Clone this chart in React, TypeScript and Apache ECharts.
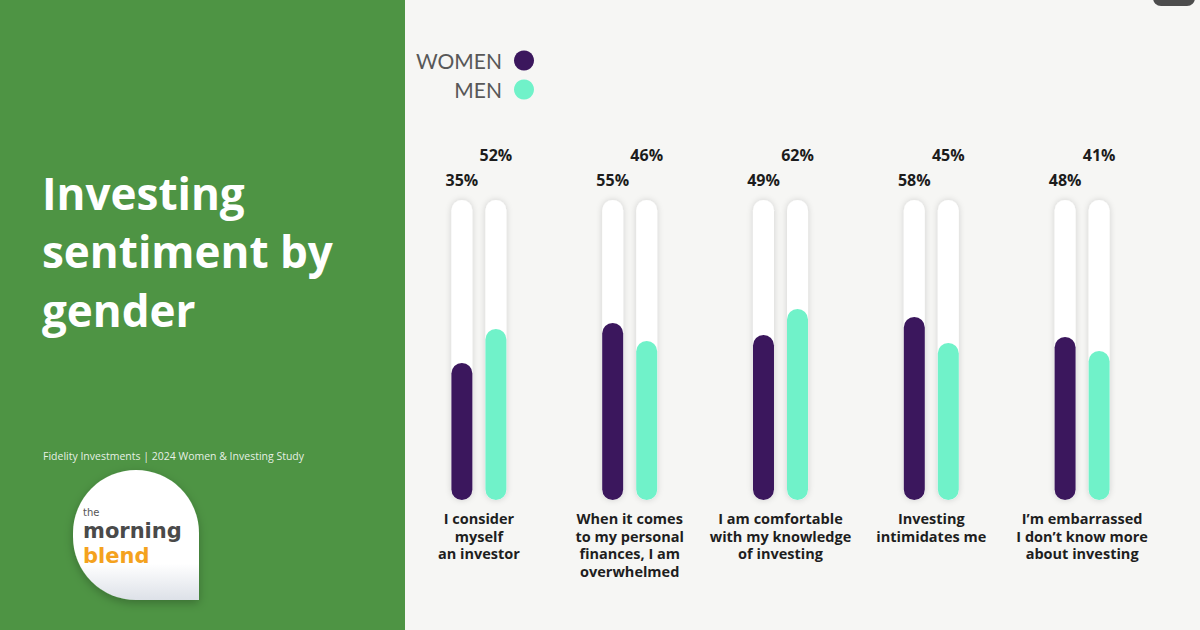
import React, { useEffect, useRef } from "react";
import * as echarts from "echarts";

const categories = [
  "I consider\nmyself\nan investor",
  "When it comes\nto my personal\nfinances, I am\noverwhelmed",
  "I am comfortable\nwith my knowledge\nof investing",
  "Investing\nintimidates me",
  "I\u2019m embarrassed\nI don\u2019t know more\nabout investing",
];
const women = [35, 55, 49, 58, 48];
const men = [52, 46, 62, 45, 41];
const seriesNames = ["WOMEN", "MEN"];

const PURPLE = "#3b175d";
const MINT = "#70f2c9";
const GREEN = "#4e9444";
const GRID_TOP = 200;
const GRID_BOTTOM = 500;
const BASE = 33.5; // visual pad under each bar (bars start below the 0% mark in the reference)
const AXIS_MAX = 150;

let registered = false;
function registerLogo() {
  if (registered) return;
  registered = true;
  const d = "M0,63 A63,63 0 0 1 126,63 L126,130 L63,130 A63,63 0 0 1 0,67 Z";
  echarts.graphic.registerShape("logo", (echarts.graphic as any).extendPath(d, {}));
}

export default function App() {
  const ref = useRef<HTMLDivElement>(null);
  useEffect(() => {
    document.body.style.margin = "0";
    registerLogo();
    const chart = echarts.init(ref.current!, undefined, { renderer: "svg" });
    const radius = 10.5;
    const trackStyle = {
      color: "#ffffff",
      borderRadius: radius,
      shadowBlur: 6,
      shadowColor: "rgba(0,0,0,0.16)",
    };
    const labelFont = {
      fontFamily: "Open Sans",
      fontWeight: 700 as const,
      fontSize: 16,
      color: "#1c1c1c",
    };
    const legendText = { fontFamily: "Lato", fontSize: 21, color: "#585858", padding: [0, 7, 0, 0] };
    const option: any = {
      animation: false,
      backgroundColor: "#f6f6f4",
      legend: [
        {
          data: [seriesNames[0]],
          right: 661,
          top: 45,
          align: "right",
          icon: "circle",
          itemWidth: 20,
          itemHeight: 20,
          selectedMode: false,
          textStyle: legendText,
        },
        {
          data: [seriesNames[1]],
          right: 661,
          top: 74,
          align: "right",
          icon: "circle",
          itemWidth: 20,
          itemHeight: 20,
          selectedMode: false,
          textStyle: legendText,
        },
      ],
      grid: { left: 403.5, right: 42.5, top: GRID_TOP, bottom: 630 - GRID_BOTTOM },
      xAxis: {
        type: "category",
        data: categories,
        axisLine: { show: false },
        axisTick: { show: false },
        axisLabel: {
          interval: 0,
          margin: 10,
          fontFamily: "Open Sans",
          fontWeight: 700,
          fontSize: 14.5,
          lineHeight: 17.5,
          color: "#1e1e1e",
          align: "center",
          verticalAlign: "top",
        },
      },
      yAxis: { type: "value", min: 0, max: AXIS_MAX, show: false, splitLine: { show: false } },
      series: [
        {
          name: seriesNames[0],
          type: "bar",
          stack: "w",
          barWidth: 21,
          barGap: "62%",
          data: categories.map(() => BASE),
          itemStyle: { color: PURPLE, borderRadius: [0, 0, radius, radius] },
          showBackground: true,
          backgroundStyle: trackStyle,
          silent: true,
        },
        {
          name: seriesNames[0],
          type: "bar",
          stack: "w",
          barWidth: 21,
          barGap: "62%",
          data: women,
          itemStyle: { color: PURPLE, borderRadius: [radius, radius, 0, 0] },
          label: {
            show: true,
            position: "top",
            ...labelFont,
            formatter: (p: any) => women[p.dataIndex] + "%",
          },
          labelLayout: () => ({ y: GRID_TOP - 20, verticalAlign: "middle", align: "center" }),
        },
        {
          name: seriesNames[1],
          type: "bar",
          stack: "m",
          barWidth: 21,
          barGap: "62%",
          data: categories.map(() => BASE),
          itemStyle: { color: MINT, borderRadius: [0, 0, radius, radius] },
          showBackground: true,
          backgroundStyle: trackStyle,
          silent: true,
        },
        {
          name: seriesNames[1],
          type: "bar",
          stack: "m",
          barWidth: 21,
          barGap: "62%",
          data: men,
          itemStyle: { color: MINT, borderRadius: [radius, radius, 0, 0] },
          label: {
            show: true,
            position: "top",
            ...labelFont,
            formatter: (p: any) => men[p.dataIndex] + "%",
          },
          labelLayout: () => ({ y: GRID_TOP - 45, verticalAlign: "middle", align: "center" }),
        },
      ],
      graphic: [
        { type: "rect", z: -10, shape: { x: 0, y: 0, width: 405, height: 630 }, style: { fill: GREEN } },
        {
          type: "rect",
          shape: { x: 1153, y: -10, width: 42, height: 16, r: 8 },
          style: { fill: "#4d4d4d" },
        },
        {
          type: "text",
          x: 42,
          y: 193,
          style: {
            text: "Investing",
            fill: "#ffffff",
            font: '700 44px "Open Sans"',
            verticalAlign: "middle",
          },
        },
        {
          type: "text",
          x: 42,
          y: 251,
          style: {
            text: "sentiment by",
            fill: "#ffffff",
            font: '700 44px "Open Sans"',
            verticalAlign: "middle",
          },
        },
        {
          type: "text",
          x: 42,
          y: 310,
          style: {
            text: "gender",
            fill: "#ffffff",
            font: '700 44px "Open Sans"',
            verticalAlign: "middle",
          },
        },
        {
          type: "text",
          x: 43,
          y: 456,
          style: {
            text: "Fidelity Investments | 2024 Women & Investing Study",
            fill: "rgba(255,255,255,0.88)",
            font: '400 10.5px "Open Sans"',
            verticalAlign: "middle",
          },
        },
        {
          type: "logo",
          x: 73,
          y: 470,
          style: {
            fill: new echarts.graphic.LinearGradient(0, 0, 0, 1, [
              { offset: 0, color: "#ffffff" },
              { offset: 0.72, color: "#ffffff" },
              { offset: 1, color: "#dde1e8" },
            ]),
            shadowBlur: 10,
            shadowColor: "rgba(0,0,0,0.25)",
            shadowOffsetY: 3,
          },
        },
        {
          type: "text",
          x: 83,
          y: 506,
          style: {
            text: "{t|the}\n{m|morning}\n{b|blend}",
            verticalAlign: "top",
            rich: {
              t: {
                fontFamily: "DejaVu Sans",
                fontWeight: 400,
                fontSize: 10,
                lineHeight: 12,
                fill: "#555555",
                color: "#555555",
              },
              m: {
                fontFamily: "DejaVu Sans",
                fontWeight: 700,
                fontSize: 21,
                lineHeight: 25,
                fill: "#4a4a4a",
                color: "#4a4a4a",
              },
              b: {
                fontFamily: "DejaVu Sans",
                fontWeight: 700,
                fontSize: 21,
                lineHeight: 25,
                fill: "#f4a21e",
                color: "#f4a21e",
              },
            },
          },
        },
      ],
    };
    chart.setOption(option);
    return () => chart.dispose();
  }, []);
  return (
    <div
      ref={ref}
      style={{ position: "absolute", left: 0, top: 0, width: 1200, height: 630 }}
    />
  );
}
